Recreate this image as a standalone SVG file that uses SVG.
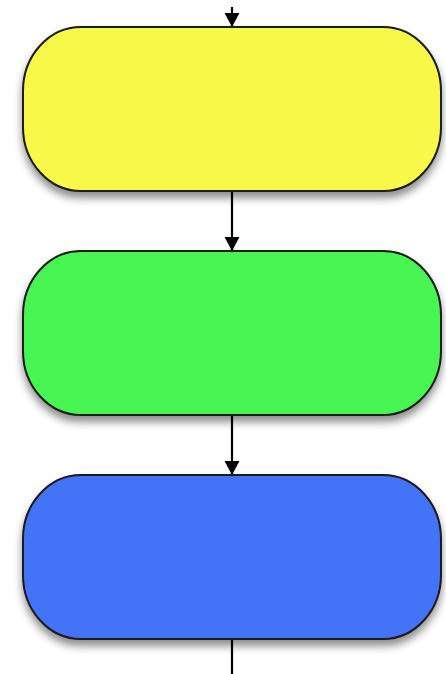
<svg xmlns="http://www.w3.org/2000/svg" width="446" height="674" viewBox="0 0 446 674">
<style>
.node{stroke:#1a1a1a;stroke-width:2;filter:url(#sh)}
.conn{stroke:#000;stroke-width:2.2;fill:none}
</style>
<defs>
<filter id="sh" x="-10%" y="-10%" width="120%" height="140%">
<feDropShadow dx="0" dy="6" stdDeviation="4.5" flood-color="#000" flood-opacity="0.45"/>
</filter>
<marker id="ah" viewBox="0 0 14 20" refX="14" refY="10" markerWidth="14" markerHeight="20" markerUnits="userSpaceOnUse" orient="auto">
<path d="M0,2.5 L14,10 L0,17.5 Z" fill="#000"/>
</marker>
</defs>
<rect width="446" height="674" fill="#fff"/>
<g id="connectors">
<line class="conn" x1="232" y1="7" x2="232" y2="27" marker-end="url(#ah)"/>
<line class="conn" x1="232" y1="192" x2="232" y2="251" marker-end="url(#ah)"/>
<line class="conn" x1="232" y1="416" x2="232" y2="475" marker-end="url(#ah)"/>
<line class="conn" x1="232" y1="640" x2="232" y2="674"/>
</g>
<g id="yellow">
<rect class="node" x="23" y="27" width="418" height="164" rx="58" ry="64" fill="#F8F84A"/>
</g>
<g id="green">
<rect class="node" x="23" y="251" width="418" height="164" rx="58" ry="64" fill="#46F552"/>
</g>
<g id="blue">
<rect class="node" x="23" y="475" width="418" height="164" rx="58" ry="64" fill="#4373F8"/>
</g>
</svg>
